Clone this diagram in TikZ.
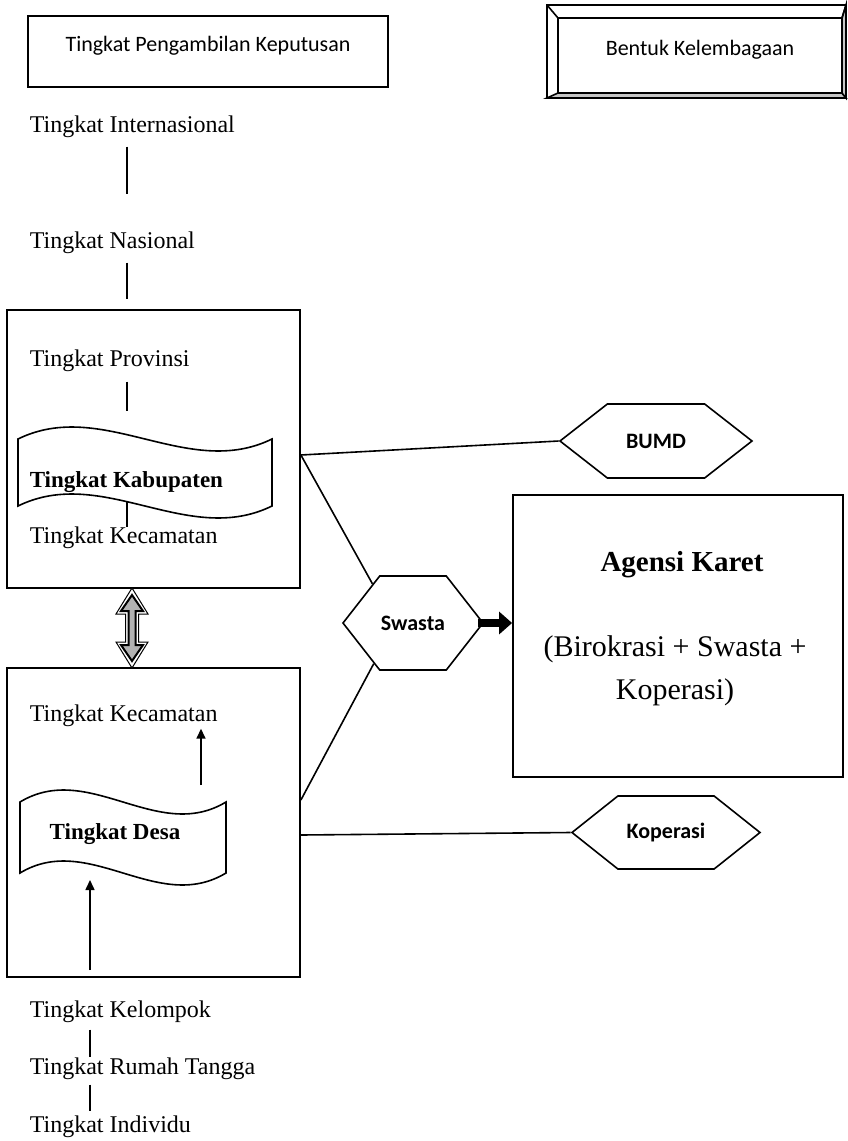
\documentclass[tikz,border=0pt]{standalone}
\usepackage{fontspec}
\setmainfont{Liberation Serif}
\setsansfont{Carlito}
\usetikzlibrary{arrows.meta,shapes.symbols}

\begin{document}
\begin{tikzpicture}[x=0.5pt, y=-0.5pt, line width=0.8pt,
	tingkat/.style={anchor=west, inner sep=2pt, font=\fontsize{12}{14}\selectfont},
	tebal/.style={font=\bfseries\fontsize{11.5}{14}\selectfont},
	judul/.style={draw=black, font=\sffamily\fontsize{11}{13}\selectfont, text height=8pt, text depth=8pt},
	kotak/.style={draw=black, line width=0.9pt},
	heksa/.style={shape=signal, signal to=east and west, draw=black, fill=white, inner sep=0pt,
		font=\sffamily\bfseries\fontsize{11}{13}\selectfont},
	gelombang/.style={draw=black, fill=white},
	panah/.style={-{Triangle[length=5pt, width=4.5pt]}}]
			\useasboundingbox (0,0) rectangle (847,1141);
			\node[judul, minimum width=180pt, minimum height=35.5pt] (pengambilan) at (208,51.5) {Tingkat Pengambilan Keputusan};
			\filldraw[fill=white] (547,5) rectangle (846,98);
			\filldraw[fill=gray!45] (547,98) -- (558,93) -- (842,93) -- (846,98) -- cycle;
			\filldraw[fill=gray!45] (846,5) -- (842,18) -- (842,93) -- (846,98) -- cycle;
			\draw (547,5) -- (558,18);
			\draw (846,5) -- (842,18);
			\node[judul, minimum width=142pt, minimum height=37.5pt] (bentuk) at (700,55.5) {Bentuk Kelembagaan};
			\node[kotak, minimum width=146.5pt, minimum height=139pt] (kotak1) at (153.5,449) {};
			\node[kotak, minimum width=146.5pt, minimum height=154.5pt] (kotak2) at (153.5,822.5) {};
			\node[kotak, minimum width=165pt, minimum height=141pt] (agensi) at (678,636) {};
			\draw[gelombang] (18,439) .. controls (102.7,397.5) and (187.3,480.5) .. (272,439) -- (272,506) .. controls (187.3,547.5) and (102.7,464.5) .. (18,506) -- cycle;
			\draw[gelombang] (20,802) .. controls (88.7,760.5) and (157.3,843.5) .. (226,802) -- (226,873) .. controls (157.3,914.5) and (88.7,831.5) .. (20,873) -- cycle;
			\filldraw[fill=white, line width=0.5pt] (132,588) -- (148,614) -- (138.5,614) -- (138.5,642) -- (148,642) -- (132,668) -- (116,642) -- (125.5,642) -- (125.5,614) -- (116,614) -- cycle;
			\filldraw[fill=gray!60, line width=1pt] (132,595) -- (143,611) -- (135.5,611) -- (135.5,645) -- (143,645) -- (132,661) -- (121,645) -- (128.5,645) -- (128.5,611) -- (121,611) -- cycle;
			\node[tingkat] (intl) at (25,127) {Tingkat Internasional};
			\node[tingkat] (nas) at (25,243) {Tingkat Nasional};
			\node[tingkat] (prov) at (25,361) {Tingkat Provinsi};
			\node[tingkat, tebal] (kab) at (25,482) {Tingkat Kabupaten};
			\node[tingkat] (kec1) at (25,538) {Tingkat Kecamatan};
			\node[tingkat] (kec2) at (25,716) {Tingkat Kecamatan};
			\node[tebal] (desa) at (115,834) {Tingkat Desa};
			\node[tingkat] (kel) at (25,1012) {Tingkat Kelompok};
			\node[tingkat] (rt) at (25,1069) {Tingkat Rumah Tangga};
			\node[tingkat] (indiv) at (25,1127) {Tingkat Individu};
			\node[heksa, minimum width=96pt, minimum height=37pt, signal pointer angle=76] (bumd) at (656,441) {BUMD};
			\node[heksa, minimum width=70pt, minimum height=47pt, signal pointer angle=104] (swasta) at (413,623) {Swasta};
			\node[heksa, minimum width=94pt, minimum height=36.5pt, signal pointer angle=77] (koperasi) at (666,832.5) {Koperasi};
			\node[font=\bfseries\fontsize{14.5}{17}\selectfont] (agensijudul) at (682,565) {Agensi Karet};
			\node[align=center, font=\fontsize{15}{21.5}\selectfont] (agensiisi) at (675,671) {(Birokrasi + Swasta +\\Koperasi)};
			\coordinate (sumbu) at (127,0);
			\coordinate (sumbub) at (90,0);
			\coordinate (w1a) at (127,411);
			\coordinate (w1b) at (127,501);
			\coordinate (w2a) at (201,785);
			\coordinate (w2b) at (90,880);
			\coordinate (b2a) at (90,970);
			\draw[shorten <=2pt, shorten >=16.5pt] (intl.south -| sumbu) -- (nas.north -| sumbu);
			\draw[shorten <=2pt, shorten >=5pt] (nas.south -| sumbu) -- (kotak1.north -| sumbu);
			\draw[shorten <=2.5pt] (prov.south -| sumbu) -- (w1a);
			\draw[shorten >=-2.5pt] (w1b) -- (kec1.north -| sumbu);
			\draw[panah, shorten >=-1.5pt] (w2a) -- (w2a |- kec2.south);
			\draw[panah] (b2a) -- (w2b);
			\draw[shorten <=1pt, shorten >=-2pt] (kel.south -| sumbub) -- (rt.north -| sumbub);
			\draw (rt.south -| sumbub) -- (indiv.north -| sumbub);
			\draw ([yshift=-3pt]kotak1.east) -- (bumd.west);
			\draw ([yshift=-3pt]kotak1.east) -- (swasta.136);
			\draw ([yshift=11.25pt]kotak2.east) -- (swasta.226);
			\draw ([yshift=-6.25pt]kotak2.east) -- (koperasi.west);
			\draw[line width=4pt, -{Triangle[length=6.5pt, width=11pt]}, shorten <=-3pt] (swasta.east) -- (swasta.east -| agensi.west);
		\end{tikzpicture}
\end{document}
